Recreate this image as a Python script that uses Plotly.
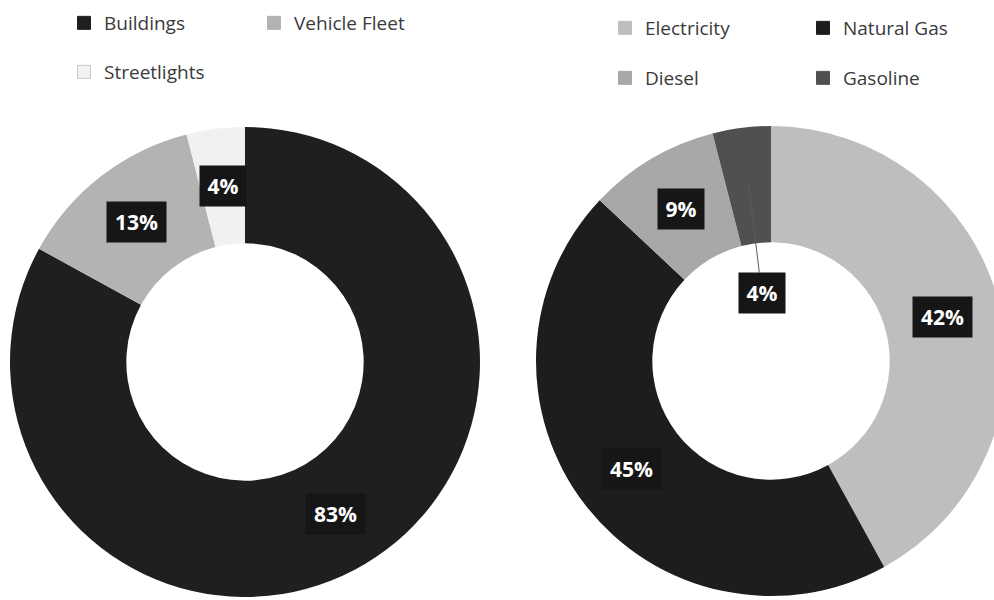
import math
import plotly.graph_objects as go

# ---------------- data ----------------
left_labels = ["Buildings", "Vehicle Fleet", "Streetlights"]
left_values = [83, 13, 4]

right_labels = ["Electricity", "Natural Gas", "Diesel", "Gasoline"]
right_values = [42, 45, 9, 4]

# ---------------- styles / geometry ----------------
left_colors = ["#1f1f1f", "#b3b3b3", "#f1f1f1"]
right_colors = ["#bebebe", "#1d1d1d", "#a8a8a8", "#505050"]

W, H = 1010, 600
R = 235            # outer radius (px)
HOLE = 0.505
LABEL_R = 177      # radius where slice labels sit (px)
left_center = (245, 362)
right_center = (771, 361)

FONT = "Open Sans"


def domain(center):
    cx, cy = center
    return dict(x=[(cx - R) / W, (cx + R) / W],
                y=[1 - (cy + R) / H, 1 - (cy - R) / H])


def slice_mid(values, i, center, r):
    total = float(sum(values))
    frac = (sum(values[:i]) + values[i] / 2.0) / total
    ang = frac * 2 * math.pi
    px = center[0] + r * math.sin(ang)
    py = center[1] - r * math.cos(ang)
    return px / W, 1 - py / H


fig = go.Figure()

for labels, values, colors, center in [
    (left_labels, left_values, left_colors, left_center),
    (right_labels, right_values, right_colors, right_center),
]:
    fig.add_trace(go.Pie(
        labels=labels, values=values, hole=HOLE, sort=False,
        direction="clockwise", rotation=0, textinfo="none",
        marker=dict(colors=colors, line=dict(width=0)),
        domain=domain(center), showlegend=False,
        hoverinfo="label+percent",
    ))

# legend entries (two per row)
for side, (labels, colors) in enumerate([(left_labels, left_colors),
                                         (right_labels, right_colors)]):
    for i, (lab, col) in enumerate(zip(labels, colors)):
        row = i // 2
        lname = "legend" if (side == 0 and row == 0) else f"legend{side * 2 + row + 1}"
        fig.add_trace(go.Scatter(
            x=[None], y=[None], mode="markers", name=lab, legend=lname,
            marker=dict(symbol="square", size=13, color=col,
                        line=dict(color="#c8c8c8" if col == "#f1f1f1" else col, width=1)),
            hoverinfo="skip", showlegend=True,
        ))

legend_common = dict(orientation="h", xanchor="left", yanchor="middle",
                     bgcolor="rgba(0,0,0,0)", entrywidthmode="pixels",
                     font=dict(family=FONT, size=19, color="#3a3a3a"),
                     itemclick=False, itemdoubleclick=False)

layout_legends = {
    "legend": dict(x=64 / W, y=1 - 23 / H, entrywidth=145, **legend_common),
    "legend2": dict(x=64 / W, y=1 - 72 / H, entrywidth=145, **legend_common),
    "legend3": dict(x=605 / W, y=1 - 28 / H, entrywidth=153, **legend_common),
    "legend4": dict(x=605 / W, y=1 - 78 / H, entrywidth=153, **legend_common),
}

# slice labels
annotations = []
for values, center, special in [(left_values, left_center, None),
                                (right_values, right_center, 3)]:
    for i, v in enumerate(values):
        txt = f"{v}%"
        wbox = 34 if len(txt) == 2 else 47
        base = dict(text=f"<b>{txt}</b>", xref="paper", yref="paper",
                    xanchor="center", yanchor="middle",
                    font=dict(family=FONT, size=21, color="white"),
                    bgcolor="#161616", borderpad=6, width=wbox)
        x, y = slice_mid(values, i, center, LABEL_R)
        if i == special:
            annotations.append(dict(x=x, y=y, showarrow=True, arrowhead=0,
                                    arrowwidth=1, arrowcolor="#5a5a5a",
                                    ax=13, ay=108, standoff=0, **base))
        else:
            annotations.append(dict(x=x, y=y, showarrow=False, **base))

fig.update_layout(
    width=W, height=H,
    margin=dict(l=0, r=0, t=0, b=0),
    paper_bgcolor="white", plot_bgcolor="white",
    xaxis=dict(visible=False), yaxis=dict(visible=False),
    annotations=annotations,
    **layout_legends,
)

fig.write_html(
    "out.html",
    post_script="document.documentElement.style.overflow='hidden';"
                "document.body.style.overflow='hidden';document.body.style.margin='0';",
)
